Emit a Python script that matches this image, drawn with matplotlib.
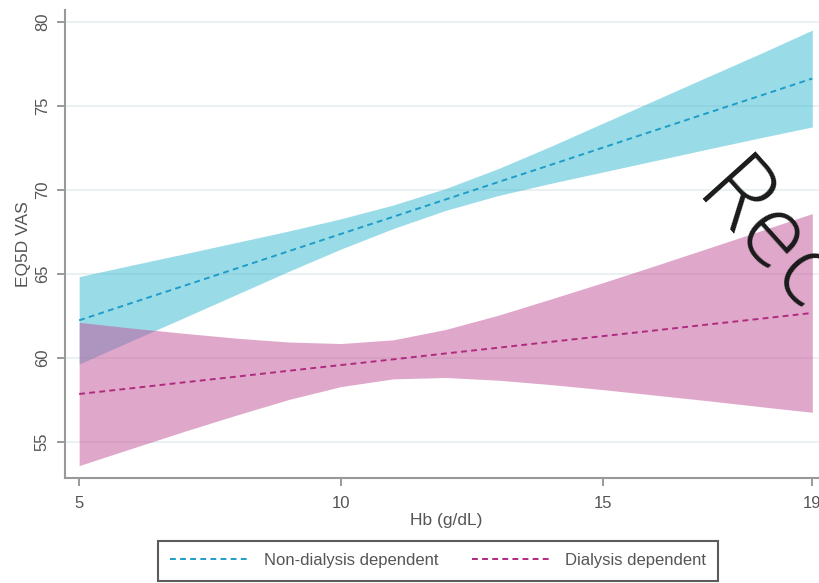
import numpy as np
import matplotlib.pyplot as plt

plt.rcParams['font.family'] = ['Liberation Sans', 'DejaVu Sans']

# Hb values where the predictions were evaluated
hb = [5, 6, 7, 8, 9, 10, 11, 12, 13, 14, 15, 16, 17, 18, 19]

# Non-dialysis dependent: predicted EQ5D VAS and 95% CI
nd_fit = [62.24, 63.27, 64.29, 65.32, 66.35, 67.38, 68.40, 69.43, 70.46, 71.48, 72.51, 73.54, 74.57, 75.59, 76.62]
nd_hi = [64.84, 65.52, 66.19, 66.87, 67.55, 68.28, 69.10, 70.08, 71.26, 72.58, 73.96, 75.34, 76.72, 78.09, 79.50]
nd_lo = [59.64, 61.02, 62.39, 63.77, 65.15, 66.48, 67.70, 68.78, 69.66, 70.38, 71.06, 71.74, 72.42, 73.09, 73.74]

# Dialysis dependent: predicted EQ5D VAS and 95% CI
dd_fit = [57.86, 58.20, 58.55, 58.89, 59.24, 59.58, 59.92, 60.27, 60.61, 60.96, 61.30, 61.64, 61.99, 62.33, 62.68]
dd_hi = [62.12, 61.78, 61.47, 61.18, 60.95, 60.86, 61.08, 61.70, 62.54, 63.50, 64.48, 65.49, 66.52, 67.55, 68.59]
dd_lo = [53.60, 54.62, 55.63, 56.60, 57.53, 58.30, 58.76, 58.84, 58.68, 58.42, 58.12, 57.79, 57.46, 57.11, 56.77]

x_ticks = [5, 10, 15, 19]
y_ticks = [55, 60, 65, 70, 75, 80]

grey = '#555555'

fig = plt.figure(figsize=(8.19, 5.83), dpi=100)
ax = fig.add_axes([0.0794, 0.180, 0.9316, 0.803])

for y in y_ticks:
    ax.axhline(y, color='#e6eff1', lw=1.2, zorder=0)

ax.fill_between(hb, nd_lo, nd_hi, color=(55/255, 185/255, 211/255), alpha=0.5, lw=0, zorder=1)
ax.fill_between(hb, dd_lo, dd_hi, color=(193/255, 81/255, 151/255), alpha=0.5, lw=0, zorder=2)

dash = (0, (3.0, 2.2))
ax.plot(hb, nd_fit, color='#1f9dc9', lw=1.4, ls=dash, zorder=3, label='Non-dialysis dependent')
ax.plot(hb, dd_fit, color='#b02a80', lw=1.4, ls=dash, zorder=3, label='Dialysis dependent')

ax.set_xlim(4.73, 19.3)
ax.set_ylim(52.86, 80.7)
ax.set_xticks(x_ticks)
ax.set_yticks(y_ticks)
ax.tick_params(axis='both', colors='#888888', labelcolor=grey, labelsize=12,
               length=6, width=1.2, direction='out')
ax.tick_params(axis='x', pad=7)
ax.tick_params(axis='y', pad=5)
plt.setp(ax.get_yticklabels(), rotation=90, va='center')

for side in ['top', 'right']:
    ax.spines[side].set_visible(False)
for side in ['left', 'bottom']:
    ax.spines[side].set_color('#999999')
    ax.spines[side].set_linewidth(1.5)

ax.set_xlabel('Hb (g/dL)', color=grey, fontsize=12.5, labelpad=1)
ax.set_ylabel('EQ5D VAS', color=grey, fontsize=12.5, labelpad=3)

leg = fig.legend(loc='lower center', bbox_to_anchor=(0.535, 0.0), ncol=2,
                 fontsize=12, handlelength=4.8, handletextpad=0.8, columnspacing=2.0,
                 borderpad=0.75, borderaxespad=0.15, fancybox=False, frameon=True)
leg.get_frame().set_edgecolor('#333333')
leg.get_frame().set_linewidth(1.5)
for t in leg.get_texts():
    t.set_color(grey)

fig.text(0.868, 0.69, 'Rec', fontsize=72, rotation=-48, color='#1a1a1a',
         family=['Open Sans', 'DejaVu Sans'], fontweight=300,
         ha='left', va='center', rotation_mode='anchor')

fig.savefig('out.png', dpi=100)
